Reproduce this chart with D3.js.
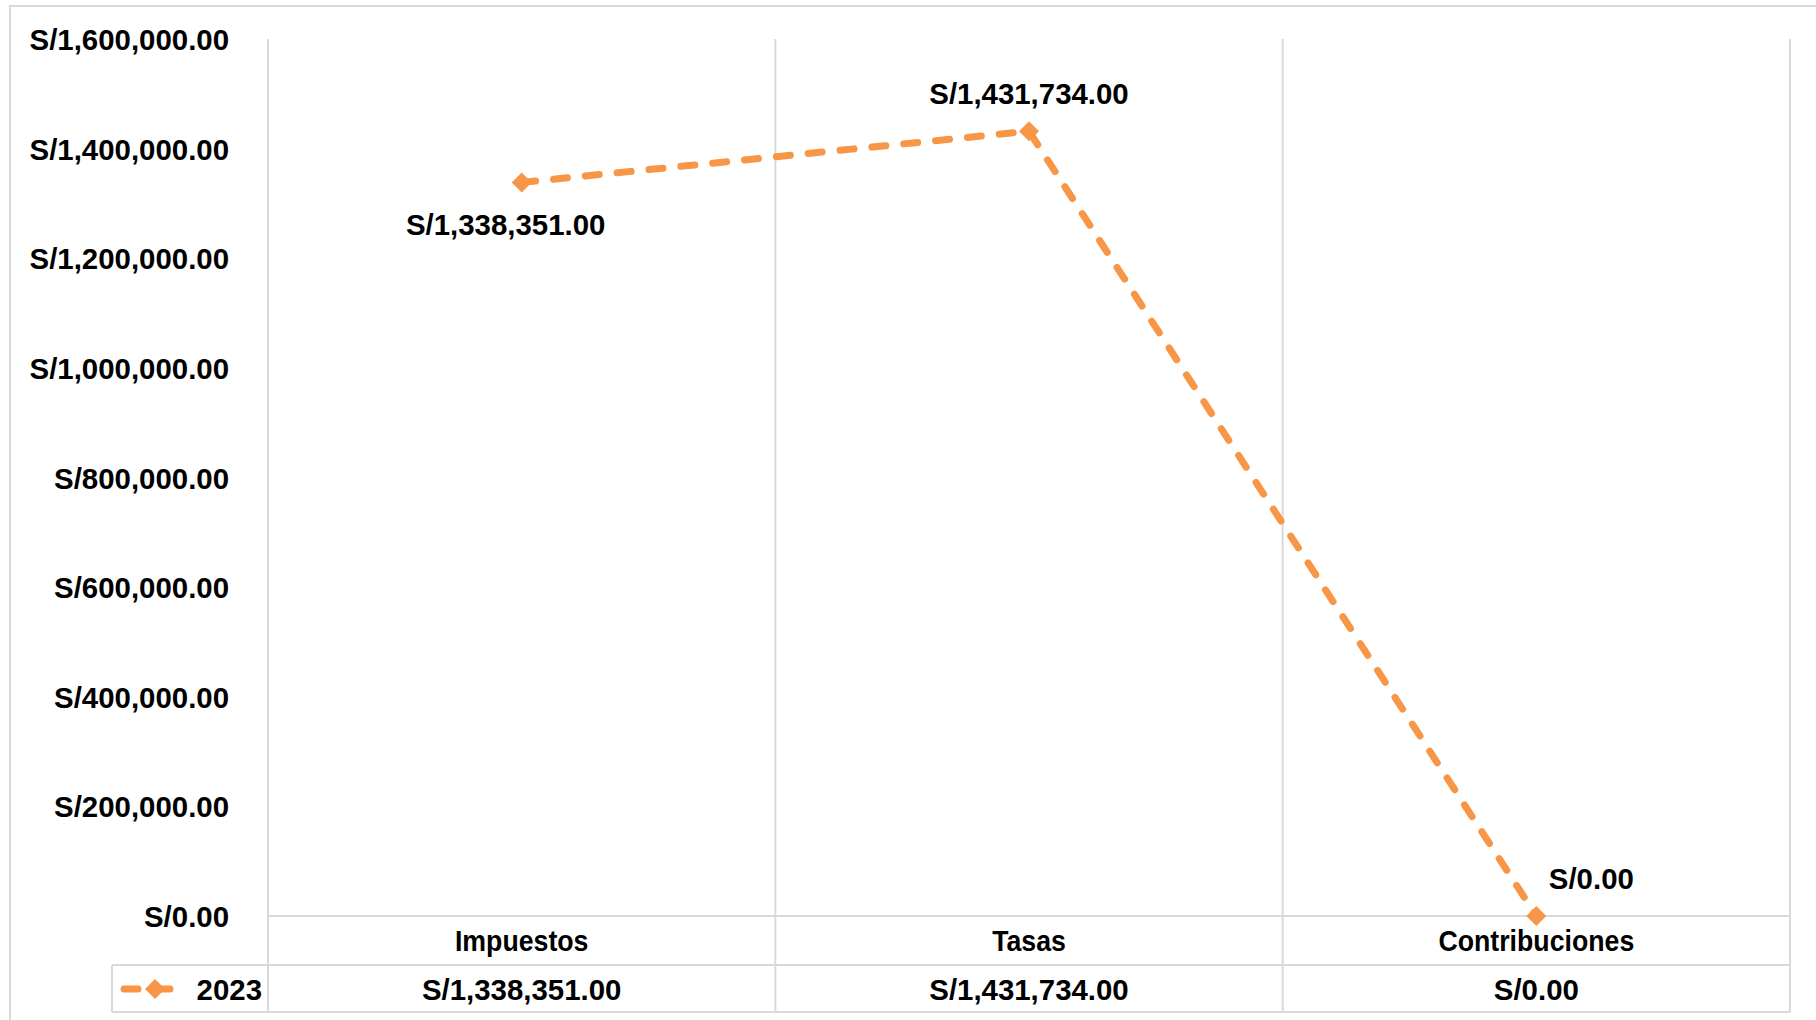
<!DOCTYPE html>
<html>
<head>
<meta charset="utf-8">
<script src="https://cdn.jsdelivr.net/npm/d3@7"></script>
<style>
  html, body { margin: 0; padding: 0; background: #fff; }
  svg text { font-family: "Liberation Sans", Arial, sans-serif; font-weight: bold; fill: #000; }
</style>
</head>
<body>
<svg id="chart" width="1816" height="1020"></svg>
<script>
// Ingresos por tipo de tributo, año 2023
const categories = ["Impuestos", "Tasas", "Contribuciones"];
const seriesName = "2023";
const values2023 = [1338351, 1431734, 0];
const yTicks = [0, 200000, 400000, 600000, 800000, 1000000, 1200000, 1400000, 1600000];

const W = 1816, H = 1020;
const plot = { left: 268, right: 1790, top: 39, bottom: 916 };
const tableRowY = 965, tableBottom = 1012, legendLeft = 112;
const orange = "#F79646", gridColor = "#d9d9d9";
const fontSize = 30;
// condensed look: figures stay wide, words are squeezed more
const narrowNumbers = 0.98, narrowWords = 0.89;

const svg = d3.select("#chart");
const money = v => "S/" + d3.format(",.2f")(v);

const x = d3.scaleBand().domain(categories).range([plot.left, plot.right]);
const y = d3.scaleLinear().domain([0, 1600000]).range([plot.bottom, plot.top]);
const cx = c => x(c) + x.bandwidth() / 2;

// chart frame
svg.append("rect").attr("x", 10).attr("y", 6).attr("width", W).attr("height", H)
  .attr("fill", "none").attr("stroke", gridColor).attr("stroke-width", 2);

// vertical category separators (run down through the data table)
const bounds = categories.map(c => x(c)).concat([plot.right]);
svg.append("g").selectAll("line").data(bounds).join("line")
  .attr("x1", d => d).attr("x2", d => d)
  .attr("y1", plot.top).attr("y2", tableBottom)
  .attr("stroke", gridColor).attr("stroke-width", 2);

// horizontal axis line and table rows
svg.append("line").attr("x1", plot.left).attr("x2", plot.right)
  .attr("y1", y(0)).attr("y2", y(0)).attr("stroke", gridColor).attr("stroke-width", 2);
[tableRowY, tableBottom].forEach(yy => {
  svg.append("line").attr("x1", legendLeft).attr("x2", plot.right)
    .attr("y1", yy).attr("y2", yy).attr("stroke", gridColor).attr("stroke-width", 2);
});
svg.append("line").attr("x1", legendLeft).attr("x2", legendLeft)
  .attr("y1", tableRowY).attr("y2", tableBottom).attr("stroke", gridColor).attr("stroke-width", 2);

// y axis labels
const yAxis = d3.axisLeft(y).tickValues(yTicks).tickFormat(money).tickSize(0).tickPadding(0);
const gy = svg.append("g").attr("transform", `translate(229,0)`).call(yAxis);
gy.select(".domain").remove();
gy.attr("font-family", null).attr("font-size", null);
gy.selectAll("text").attr("font-size", fontSize).attr("dy", "0.35em");

// category labels
const xAxis = d3.axisBottom(x).tickSize(0).tickPadding(0);
const gx = svg.append("g").attr("transform", `translate(0,940)`).call(xAxis);
gx.select(".domain").remove();
gx.attr("font-family", null).attr("font-size", null);
gx.selectAll("text").attr("font-size", fontSize).attr("dy", "0.35em").attr("y", 0);

// data table values
svg.append("g").selectAll("text").data(values2023).join("text")
  .attr("x", (d, i) => cx(categories[i])).attr("y", 989).attr("dy", "0.35em")
  .attr("text-anchor", "middle").attr("font-size", fontSize).text(money);

// legend key in the table
const diamond = (px, py, r) => `M${px},${py - r}L${px + r},${py}L${px},${py + r}L${px - r},${py}Z`;
svg.append("line").attr("x1", 124).attr("x2", 188).attr("y1", 989).attr("y2", 989)
  .attr("stroke", orange).attr("stroke-width", 7).attr("stroke-linecap", "round")
  .attr("stroke-dasharray", "14,18");
svg.append("path").attr("d", diamond(155, 989, 10)).attr("fill", orange);
svg.append("text").attr("x", 262).attr("y", 989).attr("dy", "0.35em")
  .attr("text-anchor", "end").attr("font-size", fontSize).text(seriesName);

// series line
const pts = values2023.map((v, i) => [cx(categories[i]), y(v)]);
svg.append("path").attr("d", d3.line()(pts)).attr("fill", "none")
  .attr("stroke", orange).attr("stroke-width", 7).attr("stroke-linecap", "round")
  .attr("stroke-linejoin", "round").attr("stroke-dasharray", "14,18");
svg.append("g").selectAll("path").data(pts).join("path")
  .attr("d", d => diamond(d[0], d[1], 10)).attr("fill", orange);

// data labels
const labelOffsets = [[-16, 42], [0, -38], [55, -38]];
svg.append("g").selectAll("text").data(values2023).join("text")
  .attr("x", (d, i) => pts[i][0] + labelOffsets[i][0])
  .attr("y", (d, i) => pts[i][1] + labelOffsets[i][1])
  .attr("dy", "0.35em").attr("text-anchor", "middle")
  .attr("font-size", fontSize).text(money);

// condense every label horizontally
svg.selectAll("text").each(function () {
  const w = this.getComputedTextLength();
  const k = /\d/.test(this.textContent) ? narrowNumbers : narrowWords;
  d3.select(this).attr("textLength", w * k).attr("lengthAdjust", "spacingAndGlyphs");
});
</script>
</body>
</html>
